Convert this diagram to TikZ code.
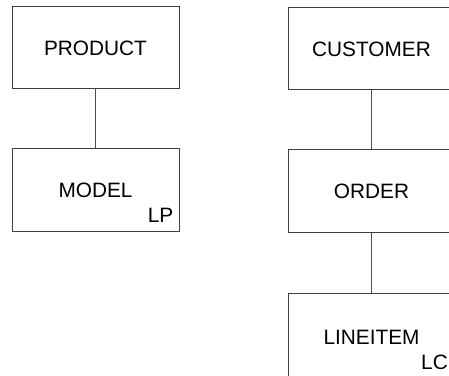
\documentclass[tikz,border=0pt]{standalone}
\usepackage{fontspec}
\setmainfont{Liberation Sans}
\usepackage{tikz}
\usetikzlibrary{positioning}

\begin{document}
\begin{tikzpicture}[x=1pt,y=1pt,entity/.style={draw=black!75,line width=1pt,minimum width=167pt,minimum height=82pt,inner sep=0pt,font=\fontsize{20.8}{25}\selectfont},tag/.style={inner sep=0pt,font=\fontsize{20.8}{25}\selectfont},link/.style={draw=black!70,line width=1pt}]
\useasboundingbox (0,0) rectangle (449,375);
\clip (0,0) rectangle (449,375);
% left column
\node[entity] (product) at (95.5,327) {PRODUCT};
\node[entity] (model) at (95.5,185) {\raisebox{-2pt}{MODEL}};
\node[tag,above left=9pt and 6pt of model.south east] (model_tag) {LP};
% right column, runs off the page edge
\node[entity] (customer) at (371.5,326) {CUSTOMER};
\node[entity] (order) at (371.5,184) {\raisebox{-1pt}{ORDER}};
\node[entity,minimum height=94pt,anchor=north] (lineitem) at (371.5,82) {\raisebox{6pt}{LINEITEM}};
\node[tag,above left=3pt and 7.5pt of lineitem.south east,yshift=15pt] (lineitem_tag) {LC};
\draw[link] (product.south)--(model.north);
\draw[link] (customer.south)--(order.north);
\draw[link] (order.south)--(lineitem.north);
\end{tikzpicture}
\end{document}
